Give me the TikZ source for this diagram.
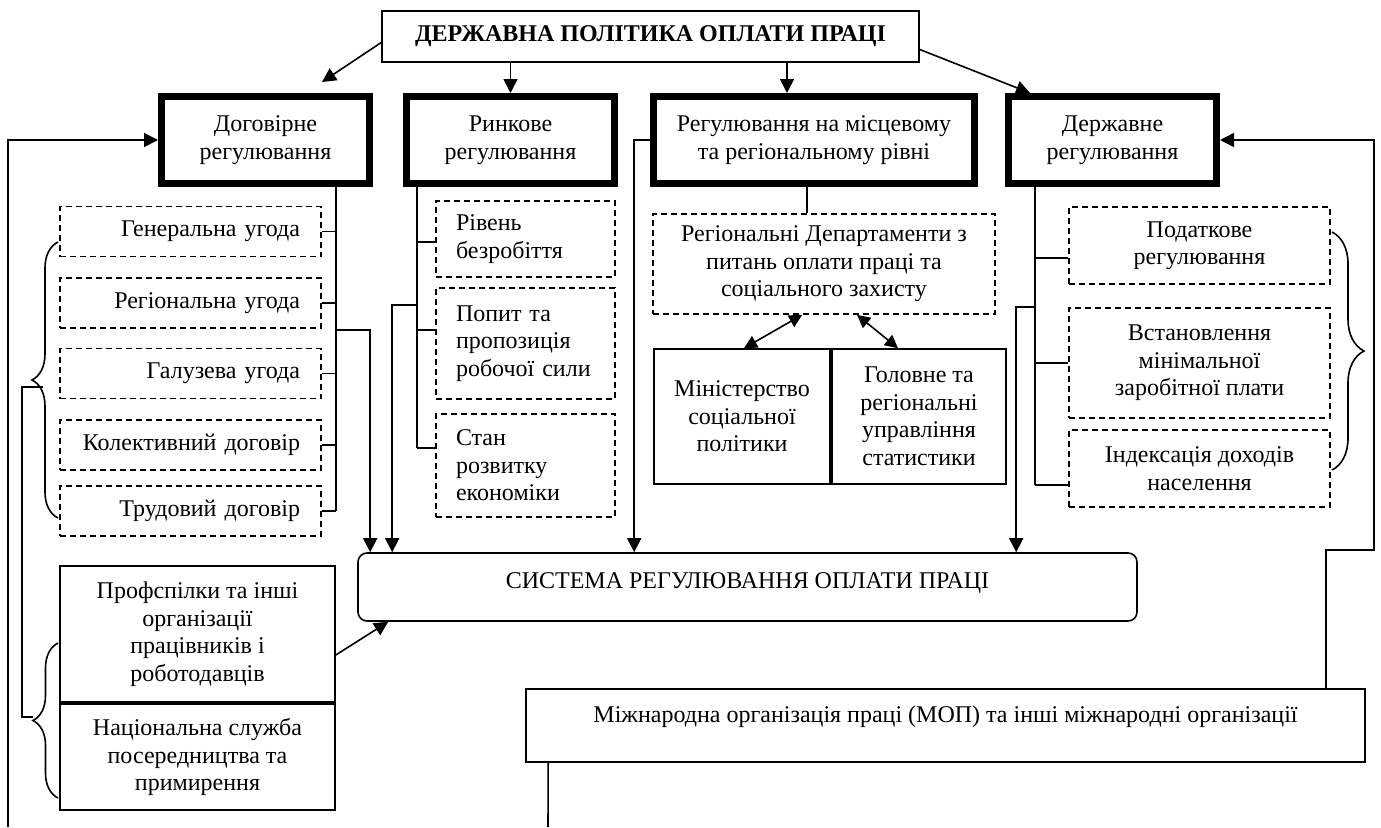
\documentclass[tikz,border=0pt]{standalone}
\usepackage{fontspec}
\setmainfont{Liberation Serif}
\usetikzlibrary{arrows.meta,calc,decorations.pathreplacing}
\begin{document}
\begin{tikzpicture}[x=1pt,y=-1pt,
  font=\fontsize{24}{27.5}\selectfont,
  line width=1.6pt,
  thinbox/.style={draw, line width=1.6pt, align=center, inner sep=0pt},
  thickbox/.style={draw, line width=7pt, align=center, inner sep=0pt},
  dashbox/.style={draw, line width=1.6pt, dash pattern=on 6pt off 4pt, inner sep=0pt},
  gbox/.style={dashbox, minimum width=261pt, minimum height=50pt, text width=219pt, inner xsep=21pt, align=right},
  rbox/.style={dashbox, minimum width=179pt, text width=139pt, inner xsep=20pt, align=left},
  dbox/.style={dashbox, minimum width=261pt, align=center},
  arr/.style={-{Triangle[length=14pt,width=14pt]}},
  dbl/.style={{Triangle[length=13pt,width=13pt]}-{Triangle[length=13pt,width=13pt]}},
  bracestyle/.style={decorate, decoration={brace, amplitude=#1}},
]
\fill[white] (0,0) rectangle (1381,827);
\useasboundingbox (0,0) rectangle (1381,827);

% top
\node[thinbox, minimum width=537pt, minimum height=51pt, font=\fontsize{24}{27.5}\selectfont\bfseries] (title) at (650.5,36.5) {ДЕРЖАВНА ПОЛІТИКА ОПЛАТИ ПРАЦІ};

\node[thickbox, minimum width=208pt, minimum height=87pt] (dog) at (265.5,140) {Договірне\\регулювання};
\node[thickbox, minimum width=208pt, minimum height=87pt] (ryn) at (510.5,140) {Ринкове\\регулювання};
\node[thickbox, minimum width=321pt, minimum height=87pt] (reg) at (814,140) {Регулювання на місцевому\\та регіональному рівні};
\node[thickbox, minimum width=208pt, minimum height=87pt] (der) at (1112.5,140) {Державне\\регулювання};

% contract regulation
\node[gbox] (g1) at (190.5,231.5) {Генеральна угода};
\node[gbox] (g2) at (190.5,303) {Регіональна угода};
\node[gbox] (g3) at (190.5,373.5) {Галузева угода};
\node[gbox] (g4) at (190.5,445) {Колективний договір};
\node[gbox] (g5) at (190.5,511) {Трудовий договір};

% market regulation
\node[rbox, minimum height=76pt] (r1) at (525.5,239) {Рівень\\безробіття};
\node[rbox, minimum height=111pt] (r2) at (525.5,343.5) {Попит та\\пропозиція\\робочої сили};
\node[rbox, minimum height=103pt] (r3) at (525.5,465.5) {Стан\\розвитку\\економіки};

% regional
\node[dashbox, minimum width=342pt, minimum height=100pt, align=center] (dep) at (824,264) {Регіональні Департаменти з\\питань оплати праці та\\соціального захисту};
\node[thinbox, minimum width=176pt, minimum height=135pt] (min) at (742,416.5) {Міністерство\\соціальної\\політики};
\node[thinbox, minimum width=174pt, minimum height=135pt] (gol) at (919,416.5) {Головне та\\регіональні\\управління\\статистики};

% state
\node[dbox, minimum height=77pt] (d1) at (1199.5,245.5) {Податкове\\регулювання};
\node[dbox, minimum height=110pt] (d2) at (1199.5,363) {Встановлення\\мінімальної\\заробітної плати};
\node[dbox, minimum height=77pt] (d3) at (1199.5,468.5) {Індексація доходів\\населення};

% system
\node[thinbox, rounded corners=9pt, minimum width=779pt, minimum height=68pt, text height=16pt, text depth=14pt] (sys) at (747.5,587) {СИСТЕМА РЕГУЛЮВАННЯ ОПЛАТИ ПРАЦІ};

\node[thinbox, minimum width=275pt, minimum height=136pt] (prof) at (197.5,634) {Профспілки та інші\\організації\\працівників і\\роботодавців};
\node[thinbox, minimum width=275pt, minimum height=106pt] (nat) at (197.5,757) {Національна служба\\посередництва та\\примирення};

\node[thinbox, minimum width=839pt, minimum height=73pt, text height=15pt, text depth=22pt] (mop) at (945.5,725.5) {Міжнародна організація праці (МОП) та інші міжнародні організації};

% arrows from title
\draw[arr] ($(title.west)+(0,6)$) -- ($(dog.north east)+(-51,-11)$);
\draw[arr] (title.south -| ryn.north) -- (ryn.north);
\coordinate (regin) at ($(reg.north)+(-27,0)$);
\draw[arr] (title.south -| regin) -- (regin);
\draw[arr] ($(title.east)+(0,13)$) -- ($(der.north west)+(25,0)$);

% feedback lines
\coordinate (lbot) at (8,827);
\draw[arr] (lbot) |- (dog.west);
\coordinate (rcorner) at (1374,550);
\draw[arr] ($(mop.north west)+(801,0)$) |- (rcorner) |- (der.east);
\coordinate (mbot) at (548,827);
\draw ($(mop.south west)+(23,0)$) -- (mbot);

% contract bus
\coordinate (dbusb) at (336,511);
\draw (dog.south -| dbusb) -- (dbusb);
\foreach \n in {g1,g2,g3,g4,g5} \draw (\n.east) -- (\n.east -| dbusb);
\coordinate (db) at (336,330);
\draw[arr] (db) -| ($(sys.north west)+(13,0)$);

% market bus
\coordinate (rbusb) at (417,448);
\draw (ryn.south -| rbusb) -- (rbusb);
\draw (rbusb |- 0,242) -- (r1.west |- 0,242);
\draw (rbusb |- 0,330) -- (r2.west |- 0,330);
\draw (rbusb) -- (r3.west |- rbusb);
\coordinate (rb) at (417,305);
\draw[arr] (rb) -| ($(sys.north west)+(35,0)$);

% regional
\draw ($(reg.south)+(-7,0)$) -- ($(dep.north)+(-17,0)$);
\draw[arr] (reg.west) -| ($(sys.north west)+(277,0)$);
\draw[dbl] ($(dep.south west)+(150,0)$) -- ($(min.north)+(2,0)$);
\draw[dbl] ($(dep.south)+(33,0)$) -- ($(gol.north)+(-21,0)$);

% state bus
\coordinate (zbusb) at (1035,485);
\draw (der.south -| zbusb) -- (zbusb);
\draw (zbusb |- 0,258) -- (d1.west |- 0,258);
\draw (zbusb |- d2.west) -- (d2.west);
\draw (zbusb) -- (d3.west |- zbusb);
\coordinate (zb) at (1035,307);
\draw[arr] (zb) -| ($(sys.north west)+(659,0)$);

% unions arrow
\draw[arr] ($(prof.east)+(0,21)$) -- ($(sys.south west)+(31,0)$);

% braces
\draw[bracestyle=32pt] (1332,232) -- (1332,470);
\draw[bracestyle=26pt] (58,518) -- (58,242);
\draw[bracestyle=25pt] (58,798) -- (58,643);
\coordinate (b1) at (43,387);
\coordinate (b2) at (33,717);
\draw (b1) -- ++(-21,0) |- (b2);
\end{tikzpicture}
\end{document}
